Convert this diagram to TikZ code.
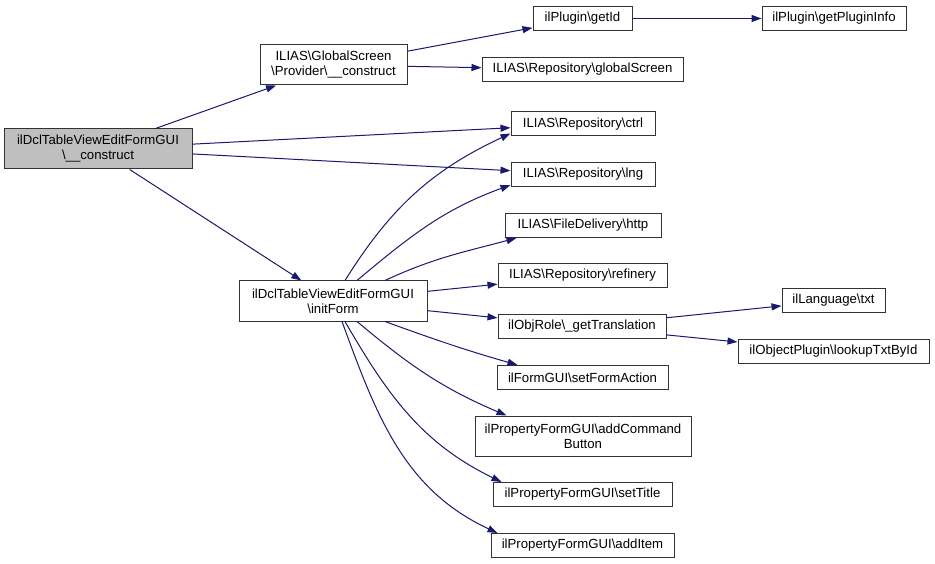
\documentclass[tikz,border=0pt]{standalone}
\usepackage{fontspec}
\setmainfont{Liberation Sans}
\usetikzlibrary{arrows.meta}
\definecolor{edgecol}{HTML}{191970}
\definecolor{rootgray}{HTML}{BFBFBF}
\definecolor{boxline}{HTML}{333333}
\newcommand{\bs}{\textbackslash}
\begin{document}
\begin{tikzpicture}[x=1pt,y=-1pt,
  box/.style={draw=boxline, line width=1pt, fill=white, inner sep=0pt,
    font=\fontsize{13.2}{15}\selectfont, align=center, minimum height=24pt},
  tall/.style={minimum height=40pt},
  edge/.style={draw=edgecol, line width=1pt, -{Triangle[length=10pt,width=7pt]}, fill=none}]
\useasboundingbox (0,0) rectangle (935,564);
\fill[white] (0,0) rectangle (935,564);

\node[box, tall, minimum width=188pt, fill=rootgray] (root) at (98,149) {ilDclTableViewEditFormGUI\\\bs\_\_construct};
\node[box, tall, minimum width=147pt] (prov) at (333.5,65) {ILIAS\bs GlobalScreen\\\bs Provider\bs\_\_construct};
\node[box, minimum width=99pt] (getid) at (582.5,18.5) {ilPlugin\bs getId};
\node[box, minimum width=144pt] (getinfo) at (834,18.5) {ilPlugin\bs getPluginInfo};
\node[box, minimum width=201pt] (gscreen) at (582.5,69.5) {ILIAS\bs Repository\bs globalScreen};
\node[box, minimum width=144pt] (ctrl) at (583,124) {ILIAS\bs Repository\bs ctrl};
\node[box, minimum width=144pt] (lng) at (583,174.5) {ILIAS\bs Repository\bs lng};
\node[box, minimum width=156pt] (http) at (583,225.5) {ILIAS\bs FileDelivery\bs http};
\node[box, minimum width=169pt] (refinery) at (582.5,275.5) {ILIAS\bs Repository\bs refinery};
\node[box, tall, minimum width=188pt] (init) at (333,301) {ilDclTableViewEditFormGUI\\\bs initForm};
\node[box, minimum width=168pt] (gettr) at (582,326.5) {ilObjRole\bs\_getTranslation};
\node[box, minimum width=103pt] (txt) at (833.5,300.5) {ilLanguage\bs txt};
\node[box, minimum width=191pt] (lookup) at (833.5,351.5) {ilObjectPlugin\bs lookupTxtById};
\node[box, minimum width=171pt] (setfa) at (582.5,377.5) {ilFormGUI\bs setFormAction};
\node[box, tall, minimum width=216pt] (addcb) at (583,436) {ilPropertyFormGUI\bs addCommand\\Button};
\node[box, minimum width=179pt] (settitle) at (582.5,494.5) {ilPropertyFormGUI\bs setTitle};
\node[box, minimum width=183pt] (additem) at (582.5,545.5) {ilPropertyFormGUI\bs addItem};

% straight edges
\draw[edge] (root) -- (prov);
\draw[edge] (root) -- (ctrl);
\draw[edge] (root) -- (lng);
\draw[edge] (root) -- (init);
\draw[edge] (prov) -- (getid);
\draw[edge] (prov) -- (gscreen);
\draw[edge] (getid) -- (getinfo);
\draw[edge] (init) -- (refinery);
\draw[edge] (init) -- (gettr);
\draw[edge] (gettr) -- (txt);
\draw[edge] (gettr) -- (lookup);

% curved edges
\draw[edge] ([xshift=12pt]init.north) to[out=58,in=205] ([yshift=3pt]ctrl.south west);
\draw[edge] ([xshift=24pt]init.north) to[out=40,in=200] ([yshift=2pt]lng.south west);
\draw[edge] ([xshift=52pt]init.north) to[out=25,in=195] ([xshift=12pt]http.south west);
\draw[edge] ([xshift=52pt]init.south) to[out=-20,in=164] ([xshift=21pt]setfa.north west);
\draw[edge] ([xshift=24pt]init.south) to[out=-40,in=157] ([xshift=32pt]addcb.north west);
\draw[edge] ([xshift=12pt]init.south) to[out=-60,in=154] ([xshift=9pt]settitle.north west);
\draw[edge] ([xshift=9pt]init.south) to[out=-70,in=155] ([xshift=7pt]additem.north west);
\end{tikzpicture}
\end{document}
